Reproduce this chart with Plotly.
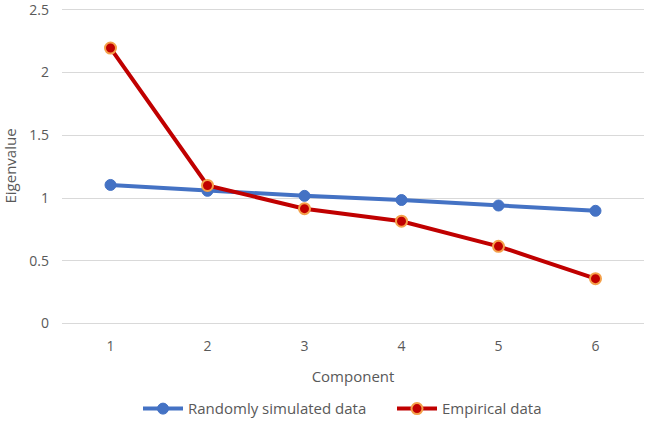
import plotly.graph_objects as go

components = [1, 2, 3, 4, 5, 6]
random_sim = [1.104, 1.057, 1.017, 0.984, 0.94, 0.898]
empirical = [2.195, 1.10, 0.915, 0.815, 0.615, 0.357]

TXT = "#595959"

fig = go.Figure()
fig.add_trace(go.Scatter(
    x=components, y=random_sim, name="Randomly simulated data",
    mode="lines+markers",
    line=dict(color="#4472C4", width=4),
    marker=dict(color="#4472C4", size=11, line=dict(color="#4472C4", width=1)),
))
fig.add_trace(go.Scatter(
    x=components, y=empirical, name="Empirical data",
    mode="lines+markers",
    line=dict(color="#C00000", width=4),
    marker=dict(color="#C00000", size=11, line=dict(color="#F4A04A", width=2)),
))

fig.update_layout(
    width=646, height=421,
    margin=dict(l=62, r=2, t=6, b=95),
    paper_bgcolor="white", plot_bgcolor="white",
    font=dict(family="Open Sans", color=TXT, size=14),
    showlegend=True,
    legend=dict(orientation="h", x=0.212, xanchor="left",
                yref="container", y=0.068, yanchor="top",
                font=dict(size=15, color=TXT), itemwidth=40,
                entrywidthmode="pixels", entrywidth=199),
    xaxis=dict(range=[0.5, 6.5], tickvals=components, ticktext=[str(c) for c in components],
               showgrid=False, zeroline=False, showline=False, ticks="", automargin=False,
               ticklabelstandoff=10,
               tickfont=dict(size=14, color=TXT),
               title=dict(text="Component", font=dict(size=15, color=TXT), standoff=17)),
    yaxis=dict(range=[-0.02, 2.53], tickvals=[0, 0.5, 1, 1.5, 2, 2.5],
               ticktext=["0", "0.5", "1", "1.5", "2", "2.5"],
               showgrid=True, gridcolor="#D9D9D9", gridwidth=1, automargin=False,
               zeroline=False, showline=False, ticks="", ticklabelstandoff=12,
               ticklabeloverflow="allow",
               tickfont=dict(size=14, color=TXT),
               title=dict(text="Eigenvalue", font=dict(size=15, color=TXT), standoff=10)),
)

fig.write_html("out.html")
